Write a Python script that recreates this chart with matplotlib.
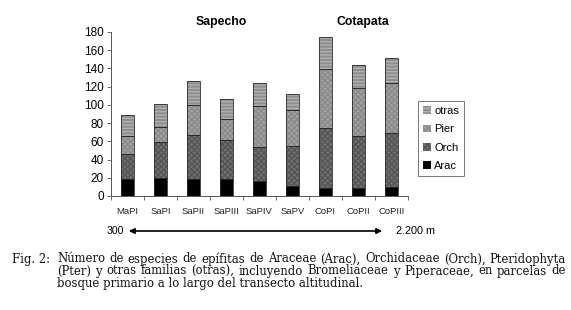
import matplotlib
matplotlib.use("Agg")
import matplotlib.pyplot as plt
import numpy as np
from matplotlib.patches import Patch, FancyArrowPatch

categories = ["MaPI", "SaPI", "SaPII", "SaPIII", "SaPIV", "SaPV", "CoPI", "CoPII", "CoPIII"]
arac = [19, 20, 19, 19, 16, 11, 9, 9, 10]
orch = [27, 39, 48, 42, 38, 44, 66, 57, 59]
pter = [20, 17, 33, 24, 45, 39, 64, 52, 55]
otras = [23, 25, 26, 22, 25, 18, 36, 26, 27]
series_names = ["Arac", "Orch", "Pier", "otras"]
group_titles = ["Sapecho", "Cotapata"]
yticks = [0, 20, 40, 60, 80, 100, 120, 140, 160, 180]

W, H = 571, 310
fig = plt.figure(figsize=(W / 100, H / 100), dpi=100)
fig.patch.set_facecolor("white")

def fx(px):
    return px / W

def fy(py):
    return 1 - py / H

ax = fig.add_axes([fx(111), fy(196), fx(408) - fx(111), fy(32) - fy(196)])

styles = [
    dict(face="#000000", hatch=None, hcol="#000000"),
    dict(face="#707070", hatch="xxxxxx", hcol="#555555"),
    dict(face="#a2a2a2", hatch="xxxxxx", hcol="#8a8a8a"),
    dict(face="#8e8e8e", hatch="-----", hcol="#b0b0b0"),
]
data = [arac, orch, pter, otras]
x = np.arange(len(categories))
bw = 0.4
bottom = np.zeros(len(categories))
for vals, st in zip(data, styles):
    vals = np.array(vals, dtype=float)
    ax.bar(x, vals, bw, bottom=bottom, color=st["face"], hatch=st["hatch"],
           edgecolor=st["hcol"], linewidth=0, zorder=2)
    ax.bar(x, vals, bw, bottom=bottom, fill=False, edgecolor="#2a2a2a",
           linewidth=0.6, zorder=3)
    bottom += vals

ax.set_xlim(-0.5, len(categories) - 0.5)
ax.set_ylim(0, 180)
ax.set_yticks(yticks)
ax.set_yticklabels([str(v) for v in yticks], fontsize=8.5, family="Liberation Sans")
ax.set_xticks(x)
ax.set_xticklabels(categories, fontsize=6.8, family="Liberation Sans", color="#222")
ax.tick_params(axis="x", length=0, pad=8)
ax.set_xticks(np.arange(-0.5, len(categories) + 0.5, 1), minor=True)
ax.tick_params(axis="x", which="minor", length=3, width=0.6, color="#555")
ax.tick_params(axis="y", length=3, width=0.6, color="#555", pad=2)
for s in ["top", "right"]:
    ax.spines[s].set_visible(False)
for s in ["left", "bottom"]:
    ax.spines[s].set_color("#555")
    ax.spines[s].set_linewidth(0.7)

fig.text(fx(221), fy(22), group_titles[0], ha="center", va="center",
         fontsize=8.8, fontweight="bold", family="Liberation Sans")
fig.text(fx(363), fy(22), group_titles[1], ha="center", va="center",
         fontsize=8.8, fontweight="bold", family="Liberation Sans")

handles = [Patch(facecolor=st["face"], hatch=st["hatch"], edgecolor=st["hcol"], linewidth=0)
           for st in styles]
leg = fig.legend(handles[::-1], series_names[::-1], loc="upper left",
                 bbox_to_anchor=(fx(418), fy(101)), frameon=True, fancybox=False,
                 prop=dict(family="Liberation Sans", size=8), handlelength=0.7,
                 handleheight=0.7, handletextpad=0.3, labelspacing=0.75,
                 borderpad=0.45, borderaxespad=0)
leg.get_frame().set_edgecolor("#555")
leg.get_frame().set_linewidth(0.7)

arrow = FancyArrowPatch((fx(126), fy(231)), (fx(385), fy(231)), transform=fig.transFigure,
                        arrowstyle="<|-|>", mutation_scale=8, color="black", linewidth=1.2)
fig.add_artist(arrow)
fig.text(fx(124), fy(231), "300", ha="right", va="center", fontsize=7.6,
         family="Liberation Sans")
fig.text(fx(396), fy(231), "2.200 m", ha="left", va="center", fontsize=7.8,
         family="Liberation Sans")

lines = [
    "Número de especies de epífitas de Araceae (Arac), Orchidaceae (Orch), Pteridophyta",
    "(Pter) y otras familias (otras), incluyendo Bromeliaceae y Piperaceae, en parcelas de",
    "bosque primario a lo largo del transecto altitudinal.",
]
ys = [259, 271, 283]
x0, x1 = 57, 566
renderer = fig.canvas.get_renderer()

# fit the caption font so the widest line's natural width matches the column
probe = fig.text(0, 0, lines[1], family="DejaVu Serif", size=10)
natural = probe.get_window_extent(renderer).width
probe.remove()
cap_size = 10 * (x1 - x0 - 6) / natural
cap_font = dict(family="DejaVu Serif", size=cap_size, color="#111")

fig.text(fx(12), fy(259), "Fig. 2:", ha="left", va="center", **cap_font)
for i, (line, yy) in enumerate(zip(lines, ys)):
    if i == len(lines) - 1:
        fig.text(fx(x0), fy(yy), line, ha="left", va="center", **cap_font)
        continue
    words = line.split(" ")
    texts = [fig.text(0, fy(yy), w, ha="left", va="center", **cap_font) for w in words]
    widths = [t.get_window_extent(renderer).width for t in texts]
    gap = (x1 - x0 - sum(widths)) / (len(words) - 1)
    cx = x0
    for t, w in zip(texts, widths):
        t.set_x(fx(cx))
        cx += w + gap

fig.savefig("out.png", dpi=100)
